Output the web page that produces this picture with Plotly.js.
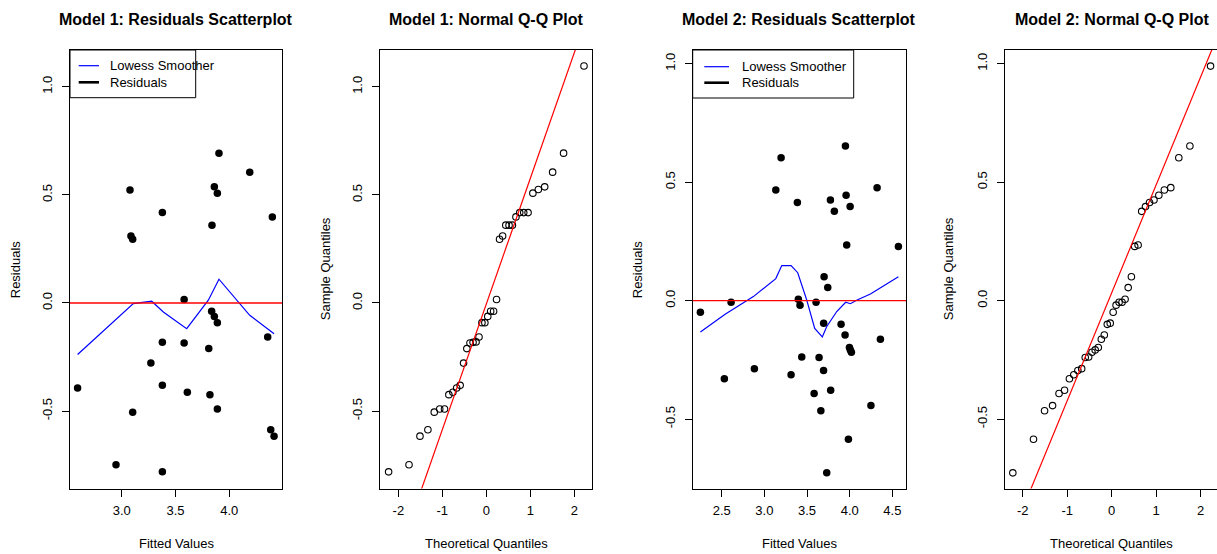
<!DOCTYPE html>
<html>
<head>
<meta charset="utf-8">
<script src="https://cdn.plot.ly/plotly-3.0.1.min.js"></script>
<style>html,body{margin:0;padding:0;background:#fff;}#chart{width:1217px;height:554px;}</style>
</head>
<body>
<div id="chart"></div>
<script>
// ---------------- DATA ----------------
// Model 1 residual scatter (visible points)
const fitted1 = [3.077,3.904,4.19,3.861,3.889,3.378,3.839,4.40,3.086,3.102,3.58,3.836,3.861,3.889,4.357,3.378,3.58,3.809,3.271,3.378,2.59,3.61,3.82,3.889,3.102,4.385,4.416,2.947,3.378];
const resid1 = [0.523,0.693,0.605,0.537,0.508,0.418,0.360,0.398,0.310,0.295,0.016,-0.038,-0.062,-0.091,-0.157,-0.182,-0.185,-0.211,-0.278,-0.381,-0.393,-0.413,-0.424,-0.490,-0.505,-0.586,-0.616,-0.748,-0.781];
const lowess1X = [2.59,3.108,3.279,3.387,3.604,3.805,3.904,4.19,4.416];
const lowess1Y = [-0.238,-0.003,0.008,-0.042,-0.119,0.013,0.11,-0.057,-0.142];

// Model 2 residual scatter (visible points)
const fitted2 = [3.95,3.196,4.321,3.134,3.958,3.387,3.774,4.005,3.82,3.965,4.571,3.7,3.743,2.25,2.61,3.398,3.418,3.606,3.695,3.899,3.946,4.36,3.997,4.008,4.02,3.438,3.641,2.883,3.694,2.531,3.313,3.583,3.777,4.249,3.662,3.985,3.731];
const resid2 = [0.653,0.603,0.477,0.467,0.445,0.414,0.425,0.397,0.377,0.235,0.229,0.101,0.055,-0.049,-0.007,0.006,-0.019,-0.007,-0.095,-0.1,-0.145,-0.163,-0.198,-0.208,-0.218,-0.238,-0.24,-0.287,-0.295,-0.33,-0.313,-0.392,-0.378,-0.443,-0.465,-0.585,-0.727];
const lowess2X = [2.25,2.54,2.871,3.134,3.204,3.313,3.391,3.496,3.59,3.679,3.73,3.848,3.953,4.008,4.087,4.243,4.571];
const lowess2Y = [-0.132,-0.057,0.017,0.093,0.148,0.148,0.118,0.003,-0.117,-0.153,-0.11,-0.046,-0.007,-0.013,0.003,0.028,0.101];

// Normal Q-Q: theoretical quantiles (n = 38) and sorted sample quantiles
const theoretical = [-2.221,-1.757,-1.508,-1.328,-1.183,-1.059,-0.950,-0.851,-0.760,-0.674,-0.594,-0.517,-0.443,-0.371,-0.301,-0.233,-0.166,-0.099,-0.033,0.033,0.099,0.166,0.233,0.301,0.371,0.443,0.517,0.594,0.674,0.760,0.851,0.950,1.059,1.183,1.328,1.508,1.757,2.221];
const sample1 = [-0.781,-0.748,-0.616,-0.586,-0.505,-0.490,-0.490,-0.424,-0.413,-0.393,-0.381,-0.278,-0.211,-0.185,-0.182,-0.180,-0.157,-0.091,-0.091,-0.062,-0.038,-0.038,0.016,0.295,0.310,0.360,0.360,0.360,0.398,0.418,0.418,0.418,0.508,0.525,0.537,0.605,0.693,1.096];
const sample2 = [-0.727,-0.585,-0.465,-0.443,-0.392,-0.378,-0.330,-0.313,-0.295,-0.287,-0.240,-0.238,-0.218,-0.208,-0.198,-0.163,-0.145,-0.100,-0.095,-0.049,-0.019,-0.007,-0.007,0.006,0.055,0.101,0.229,0.235,0.377,0.397,0.414,0.425,0.445,0.467,0.477,0.603,0.653,0.990];
// Q-Q reference lines: [intercept, slope]
const qqLine1 = [-0.005, 0.581];
const qqLine2 = [0.033, 0.456];
const qqLineX = [-3, 3];

// Tick values / labels
const resTicks = [-0.5, 0, 0.5, 1.0];
const resTickText = ['-0.5','0.0','0.5','1.0'];
const fit1Ticks = [3.0, 3.5, 4.0];
const fit1TickText = ['3.0','3.5','4.0'];
const fit2Ticks = [2.5, 3.0, 3.5, 4.0, 4.5];
const fit2TickText = ['2.5','3.0','3.5','4.0','4.5'];
const qTicks = [-2, -1, 0, 1, 2];
const qTickText = ['-2','-1','0','1','2'];

const panelTitles = ['Model 1: Residuals Scatterplot','Model 1: Normal Q-Q Plot','Model 2: Residuals Scatterplot','Model 2: Normal Q-Q Plot'];
const xTitles = ['Fitted Values','Theoretical Quantiles','Fitted Values','Theoretical Quantiles'];
const yTitles = ['Residuals','Sample Quantiles','Residuals','Sample Quantiles'];
const legendLabels = ['Lowess Smoother','Residuals'];

// ---------------- LAYOUT HELPERS ----------------
const W = 1217, H = 554;
const FONT = 'Liberation Sans, Arial, Helvetica, sans-serif';
const px = v => v / W;
const py = v => 1 - v / H;
// panel boxes in pixels [left, right, top, bottom]
const boxes = [[70,282,50,488.5],[380.3,592.3,50,488.5],[692.7,906,50,488.5],[1005.3,1217,50,488.5]];

function xax(i, range, tv, tt, mirror) {
  const b = boxes[i];
  return {domain:[px(b[0]), px(b[1])], range:range, tickvals:tv, ticktext:tt,
    showline:true, linecolor:'#000', linewidth:1, mirror:mirror,
    ticks:'outside', ticklen:7, tickwidth:1, tickcolor:'#000', ticklabelstandoff:3,
    showgrid:false, zeroline:false, fixedrange:true,
    tickfont:{family:FONT, size:13, color:'#000'}, anchor:'y'+(i?i+1:'')};
}
function yax(i, range, mirror) {
  const b = boxes[i];
  return {domain:[py(b[3]), py(b[2])], range:range, tickvals:resTicks, ticktext:resTickText,
    showline:true, linecolor:'#000', linewidth:1, mirror:mirror,
    ticks:'outside', ticklen:7, tickwidth:1, tickcolor:'#000', tickangle:-90, ticklabelstandoff:5,
    showgrid:false, zeroline:false, fixedrange:true,
    tickfont:{family:FONT, size:13, color:'#000'}, anchor:'x'+(i?i+1:'')};
}

const yr1 = [-0.858, 1.17];
const yr2 = [-0.793, 1.058];

const traces = [
  {x:fitted1, y:resid1, xaxis:'x', yaxis:'y', type:'scatter', mode:'markers', marker:{color:'#000', size:7.5}, hoverinfo:'skip'},
  {x:lowess1X, y:lowess1Y, xaxis:'x', yaxis:'y', type:'scatter', mode:'lines', line:{color:'#0000ff', width:1.2}, hoverinfo:'skip'},
  {x:theoretical, y:sample1, xaxis:'x2', yaxis:'y2', type:'scatter', mode:'markers', marker:{symbol:'circle-open', color:'#000', size:6.5, line:{width:1.1}}, hoverinfo:'skip'},
  {x:qqLineX, y:qqLineX.map(v => qqLine1[0] + qqLine1[1]*v), xaxis:'x2', yaxis:'y2', type:'scatter', mode:'lines', line:{color:'#ff0000', width:1.2}, hoverinfo:'skip'},
  {x:fitted2, y:resid2, xaxis:'x3', yaxis:'y3', type:'scatter', mode:'markers', marker:{color:'#000', size:7.5}, hoverinfo:'skip'},
  {x:lowess2X, y:lowess2Y, xaxis:'x3', yaxis:'y3', type:'scatter', mode:'lines', line:{color:'#0000ff', width:1.2}, hoverinfo:'skip'},
  {x:theoretical, y:sample2, xaxis:'x4', yaxis:'y4', type:'scatter', mode:'markers', marker:{symbol:'circle-open', color:'#000', size:6.5, line:{width:1.1}}, hoverinfo:'skip'},
  {x:qqLineX, y:qqLineX.map(v => qqLine2[0] + qqLine2[1]*v), xaxis:'x4', yaxis:'y4', type:'scatter', mode:'lines', line:{color:'#ff0000', width:1.2}, hoverinfo:'skip'}
];

const annotations = [];
const shapes = [];
boxes.forEach((b, i) => {
  const cx = (i === 3) ? 1111.6 : (b[0] + b[1]) / 2;
  const cy = (b[2] + b[3]) / 2;
  annotations.push({text:panelTitles[i], xref:'paper', yref:'paper', x:px(cx), y:py(19), xanchor:'center', yanchor:'middle', showarrow:false, font:{family:FONT, size:16, color:'#000', weight:'bold'}});
  annotations.push({text:xTitles[i], xref:'paper', yref:'paper', x:px(cx), y:py(543), xanchor:'center', yanchor:'middle', showarrow:false, font:{family:FONT, size:13, color:'#000'}});
  const ytx = [15, 325, 637, 948][i];
  annotations.push({text:yTitles[i], xref:'paper', yref:'paper', x:px(ytx), y:py(cy), xanchor:'center', yanchor:'middle', textangle:-90, showarrow:false, font:{family:FONT, size:13, color:'#000'}});
});

// zero reference lines on residual plots
['', '3'].forEach(s => {
  shapes.push({type:'line', xref:'x'+s+' domain', yref:'y'+s, x0:0, x1:1, y0:0, y1:0, line:{color:'#ff0000', width:1.3}});
});

// legends (box, swatches, text)
const legends = [
  {box:[70,195.7,50,97.7], sw:[78.7,99], rows:[65.7,82.3], tx:107.7},
  {box:[692.7,853.7,50,98], sw:[704.3,729], rows:[66.7,82.7], tx:740}
];
legends.forEach(L => {
  shapes.push({type:'rect', xref:'paper', yref:'paper', x0:px(L.box[0]), x1:px(L.box[1]), y0:py(L.box[3]), y1:py(L.box[2]), line:{color:'#000', width:1}, fillcolor:'rgba(255,255,255,0)'});
  shapes.push({type:'line', xref:'paper', yref:'paper', x0:px(L.sw[0]), x1:px(L.sw[1]), y0:py(L.rows[0]), y1:py(L.rows[0]), line:{color:'#0000ff', width:1.2}});
  shapes.push({type:'line', xref:'paper', yref:'paper', x0:px(L.sw[0]), x1:px(L.sw[1]), y0:py(L.rows[1]), y1:py(L.rows[1]), line:{color:'#000', width:2.6}});
  L.rows.forEach((r, k) => {
    annotations.push({text:legendLabels[k], xref:'paper', yref:'paper', x:px(L.tx), y:py(r), xanchor:'left', yanchor:'middle', showarrow:false, font:{family:FONT, size:13, color:'#000'}});
  });
});

const layout = {
  width:W, height:H, margin:{l:0,r:0,t:0,b:0}, paper_bgcolor:'#fff', plot_bgcolor:'#fff',
  showlegend:false, hovermode:false,
  xaxis: xax(0, [2.5195, 4.4898], fit1Ticks, fit1TickText, true),
  yaxis: yax(0, yr1, true),
  xaxis2: xax(1, [-2.41, 2.41], qTicks, qTickText, true),
  yaxis2: yax(1, yr1, true),
  xaxis3: xax(2, [2.16, 4.66], fit2Ticks, fit2TickText, true),
  yaxis3: yax(2, yr2, true),
  xaxis4: xax(3, [-2.39, 2.366], qTicks, qTickText, true),
  yaxis4: yax(3, yr2, false),
  annotations: annotations,
  shapes: shapes
};

Plotly.newPlot('chart', traces, layout, {displayModeBar:false, staticPlot:true});
</script>
</body>
</html>
